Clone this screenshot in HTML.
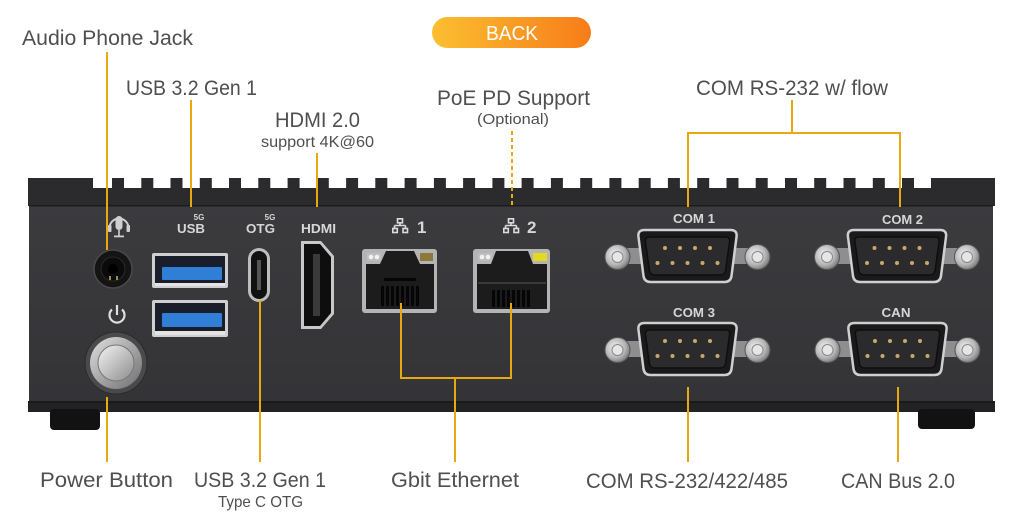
<!DOCTYPE html>
<html><head><meta charset="utf-8">
<style>
html,body{margin:0;padding:0;background:#fff;}
svg{display:block;}
</style></head>
<body>
<svg width="1024" height="528" viewBox="0 0 1024 528" xmlns="http://www.w3.org/2000/svg" font-family="'Liberation Sans', sans-serif">
<defs>
 <linearGradient id="pill" x1="0" x2="1" y1="0" y2="0"><stop offset="0" stop-color="#fbbf30"/><stop offset="1" stop-color="#f77c1a"/></linearGradient>
 <radialGradient id="nut" cx="0.4" cy="0.4" r="0.7"><stop offset="0" stop-color="#f4f4f4"/><stop offset="0.6" stop-color="#b4b4b4"/><stop offset="1" stop-color="#666"/></radialGradient>
 <linearGradient id="btn" x1="0" y1="0" x2="1" y2="1"><stop offset="0" stop-color="#f4f4f4"/><stop offset="1" stop-color="#8c8c8c"/></linearGradient>
 <linearGradient id="ring" x1="0" y1="0" x2="1" y2="1"><stop offset="0" stop-color="#e0e0e0"/><stop offset="1" stop-color="#6e6e6e"/></linearGradient>
 <linearGradient id="panel" x1="0" y1="0" x2="0" y2="1"><stop offset="0" stop-color="#3b3b3e"/><stop offset="1" stop-color="#343437"/></linearGradient>
 <g id="db9">
  <rect x="-62" y="-8" width="124" height="16" fill="#8e8e8e"/>
  <path d="M-43,-26 L43,-26 Q50,-26 49,-19 L44,20 Q43,26 37,26 L-37,26 Q-43,26 -44,20 L-49,-19 Q-50,-26 -43,-26 Z" fill="#1a1a1b" stroke="#cfcfcf" stroke-width="2.5"/>
  <path d="M-38,-19 L38,-19 Q43,-19 42,-14 L38,15 Q37,19 32,19 L-32,19 Q-37,19 -38,15 L-42,-14 Q-43,-19 -38,-19 Z" fill="#2b2b2d" stroke="#0e0e0e" stroke-width="1.5"/>
  <g fill="#c9a86a">
   <circle cx="-22.5" cy="-8" r="2"/><circle cx="-7.5" cy="-8" r="2"/><circle cx="7.5" cy="-8" r="2"/><circle cx="22.5" cy="-8" r="2"/>
   <circle cx="-30" cy="7" r="2"/><circle cx="-15" cy="7" r="2"/><circle cx="0" cy="7" r="2"/><circle cx="15" cy="7" r="2"/><circle cx="30" cy="7" r="2"/>
  </g>
  <circle cx="-70" cy="1" r="12.5" fill="url(#nut)" stroke="#555" stroke-width="1"/>
  <circle cx="-70" cy="1" r="5.5" fill="#e6e6e6" stroke="#888" stroke-width="1"/>
  <circle cx="70" cy="1" r="12.5" fill="url(#nut)" stroke="#555" stroke-width="1"/>
  <circle cx="70" cy="1" r="5.5" fill="#e6e6e6" stroke="#888" stroke-width="1"/>
 </g>
 <g id="lan" fill="none" stroke="#dcdcdc" stroke-width="1.6">
  <rect x="5.5" y="0.8" width="5" height="4"/>
  <path d="M8,4.8 V7.5 M2.5,7.5 H13.5 M2.5,7.5 V10.5 M13.5,7.5 V10.5"/>
  <rect x="0.8" y="10.5" width="4.5" height="4"/>
  <rect x="11" y="10.5" width="4.5" height="4"/>
 </g>
</defs>

<!-- BACK pill -->
<rect x="432" y="17" width="159" height="31" rx="15.5" fill="url(#pill)"/>
<text x="512" y="40" font-size="20" fill="#fff" text-anchor="middle" textLength="52" lengthAdjust="spacingAndGlyphs">BACK</text>

<!-- Device lid with fins -->
<rect x="28" y="188" width="967" height="18" fill="#2b2b2d"/>
<rect x="28" y="178" width="65" height="11" fill="#2b2b2d"/>
<rect x="931" y="178" width="64" height="11" fill="#2b2b2d"/>
<g fill="#2b2b2d">
<rect x="112" y="178" width="12" height="11"/><rect x="141.3" y="178" width="12" height="11"/><rect x="170.5" y="178" width="12" height="11"/><rect x="199.8" y="178" width="12" height="11"/>
<rect x="229" y="178" width="12" height="11"/><rect x="258.3" y="178" width="12" height="11"/><rect x="287.6" y="178" width="12" height="11"/><rect x="316.8" y="178" width="12" height="11"/>
<rect x="346.1" y="178" width="12" height="11"/><rect x="375.3" y="178" width="12" height="11"/><rect x="404.6" y="178" width="12" height="11"/><rect x="433.9" y="178" width="12" height="11"/>
<rect x="463.1" y="178" width="12" height="11"/><rect x="492.4" y="178" width="12" height="11"/><rect x="521.6" y="178" width="12" height="11"/><rect x="550.9" y="178" width="12" height="11"/>
<rect x="580.2" y="178" width="12" height="11"/><rect x="609.4" y="178" width="12" height="11"/><rect x="638.7" y="178" width="12" height="11"/><rect x="667.9" y="178" width="12" height="11"/>
<rect x="697.2" y="178" width="12" height="11"/><rect x="726.5" y="178" width="12" height="11"/><rect x="755.7" y="178" width="12" height="11"/><rect x="785" y="178" width="12" height="11"/>
<rect x="814.2" y="178" width="12" height="11"/><rect x="843.5" y="178" width="12" height="11"/><rect x="872.8" y="178" width="12" height="11"/><rect x="902" y="178" width="12" height="11"/>
</g>

<!-- front panel -->
<rect x="29" y="206" width="964" height="197" fill="url(#panel)"/>
<rect x="29" y="205" width="964" height="1.5" fill="#1c1c1d"/>
<rect x="28" y="401" width="967" height="2" fill="#1a1a1a"/>
<rect x="28" y="403" width="967" height="9" fill="#222224"/>
<!-- feet -->
<rect x="50" y="409" width="50" height="21" rx="4" fill="#121212"/>
<rect x="918" y="409" width="57" height="20" rx="4" fill="#121212"/>

<!-- headphone icon -->
<g fill="#cfcfcf" stroke="none">
 <path d="M109.5,228 A9.5,9.5 0 0 1 128.5,228" fill="none" stroke="#cfcfcf" stroke-width="2"/>
 <rect x="108" y="225" width="3.5" height="7" rx="1"/>
 <rect x="126.5" y="225" width="3.5" height="7" rx="1"/>
 <rect x="115.5" y="216" width="7" height="14" rx="3.5"/>
 <rect x="118.2" y="230" width="1.6" height="6"/>
 <rect x="114" y="235.5" width="10" height="1.8"/>
</g>
<!-- audio jack -->
<circle cx="113" cy="269" r="19" fill="#141414" stroke="#4a4a4a" stroke-width="1.5"/>
<circle cx="113" cy="269" r="12" fill="#0b0b0b" stroke="#2a2a2a" stroke-width="1"/>
<circle cx="113" cy="269" r="5" fill="#000"/>
<rect x="109" y="276" width="2" height="4" fill="#a08a50"/><rect x="116" y="276" width="2" height="4" fill="#a08a50"/>

<!-- power icon -->
<path d="M112,309.5 A7.5,7.5 0 1 0 122,309.5" fill="none" stroke="#dedede" stroke-width="2.2"/>
<line x1="117" y1="305" x2="117" y2="315" stroke="#dedede" stroke-width="2.2"/>
<!-- power button -->
<circle cx="116" cy="363" r="31" fill="#4a4a4c" stroke="#2a2a2a" stroke-width="1"/>
<circle cx="116" cy="363" r="26" fill="url(#ring)"/>
<circle cx="116" cy="363" r="18" fill="url(#btn)" stroke="#777" stroke-width="1"/>

<!-- panel labels -->
<g fill="#d6d6d6" font-weight="bold">
 <text x="199" y="220" font-size="8" text-anchor="middle">5G</text>
 <text x="191" y="233" font-size="13" text-anchor="middle" textLength="28" lengthAdjust="spacingAndGlyphs">USB</text>
 <text x="270" y="220" font-size="8" text-anchor="middle">5G</text>
 <text x="260.5" y="233" font-size="13" text-anchor="middle" textLength="29" lengthAdjust="spacingAndGlyphs">OTG</text>
 <text x="318.5" y="233" font-size="13" text-anchor="middle" textLength="35" lengthAdjust="spacingAndGlyphs">HDMI</text>
 <text x="417" y="233" font-size="17">1</text>
 <text x="527" y="233" font-size="17">2</text>
 <text x="694" y="223" font-size="13" text-anchor="middle" textLength="42" lengthAdjust="spacingAndGlyphs">COM 1</text>
 <text x="902.5" y="224" font-size="13" text-anchor="middle" textLength="41" lengthAdjust="spacingAndGlyphs">COM 2</text>
 <text x="694" y="317" font-size="13" text-anchor="middle" textLength="42" lengthAdjust="spacingAndGlyphs">COM 3</text>
 <text x="896" y="317" font-size="13" text-anchor="middle" textLength="29" lengthAdjust="spacingAndGlyphs">CAN</text>
</g>
<use href="#lan" x="392" y="218"/>
<use href="#lan" x="503" y="218"/>

<!-- USB-A ports -->
<g>
 <rect x="152" y="253" width="76" height="35" rx="2" fill="#cfcfcf"/>
 <rect x="155" y="256" width="70" height="27" fill="#1a1e2a"/>
 <rect x="162" y="267" width="60" height="13" rx="1" fill="#2f7fd6"/>
 <rect x="155" y="283" width="70" height="3" fill="#e4e4e4"/>
 <rect x="152" y="300" width="76" height="37" rx="2" fill="#cfcfcf"/>
 <rect x="155" y="303" width="70" height="28" fill="#1a1e2a"/>
 <rect x="162" y="313" width="60" height="14" rx="1" fill="#2f7fd6"/>
 <rect x="155" y="331" width="70" height="4" fill="#e4e4e4"/>
</g>
<!-- USB-C -->
<rect x="248" y="248" width="22" height="54" rx="11" fill="#bdbdbd"/>
<rect x="251" y="251" width="16" height="48" rx="8" fill="#111"/>
<rect x="257" y="260" width="4" height="30" fill="#555"/>
<!-- HDMI -->
<polygon points="301,241 321,241 334,256 334,314 321,329 301,329" fill="#c8c8c8"/>
<polygon points="304,244 320,244 331,257 331,313 320,326 304,326" fill="#0e0e0e"/>
<rect x="313" y="254" width="7" height="62" fill="#3a3a3a"/>

<!-- RJ45 port 1 -->
<rect x="362" y="249" width="75" height="64" rx="3" fill="#b4b4b4"/>
<polygon points="366,264 380,264 386,251 414,251 420,264 434,264 434,309 366,309" fill="#1c1c1c"/>
<rect x="367" y="253" width="14" height="8" fill="#bdbdbd"/>
<circle cx="371" cy="257" r="2.3" fill="#f2f2f2"/><circle cx="377" cy="257" r="2.3" fill="#f2f2f2"/>
<rect x="420" y="253" width="13" height="8" fill="#8c7a3a"/>
<rect x="384" y="278" width="32" height="3" fill="#050505"/>
<g fill="#060606"><rect x="381" y="286" width="3" height="20"/><rect x="386" y="286" width="3" height="20"/><rect x="391" y="286" width="3" height="20"/><rect x="396" y="286" width="3" height="20"/><rect x="401" y="286" width="3" height="20"/><rect x="406" y="286" width="3" height="20"/><rect x="411" y="286" width="3" height="20"/><rect x="416" y="286" width="3" height="20"/></g>
<!-- RJ45 port 2 -->
<rect x="473" y="249" width="77" height="64" rx="3" fill="#b4b4b4"/>
<polygon points="477,264 491,264 496,251 528,251 533,264 547,264 547,309 477,309" fill="#1c1c1c"/>
<rect x="478" y="253" width="14" height="8" fill="#bdbdbd"/>
<circle cx="482" cy="257" r="2.3" fill="#f2f2f2"/><circle cx="488" cy="257" r="2.3" fill="#f2f2f2"/>
<rect x="533" y="253" width="14" height="8" fill="#e2da1e"/>
<rect x="478" y="282" width="68" height="2" fill="#3a3a3a"/>
<g fill="#060606"><rect x="492" y="290" width="3" height="17"/><rect x="497" y="290" width="3" height="17"/><rect x="502" y="290" width="3" height="17"/><rect x="507" y="290" width="3" height="17"/><rect x="512" y="290" width="3" height="17"/><rect x="517" y="290" width="3" height="17"/><rect x="522" y="290" width="3" height="17"/><rect x="527" y="290" width="3" height="17"/></g>

<!-- DB9 connectors -->
<use href="#db9" transform="translate(687.5,256)"/>
<use href="#db9" transform="translate(897,256)"/>
<use href="#db9" transform="translate(687.5,349)"/>
<use href="#db9" transform="translate(897.5,349)"/>

<!-- leader lines -->
<g stroke="#e9a80f" stroke-width="2" fill="none">
 <path d="M107,52 V250"/>
 <path d="M191,100 V207"/>
 <path d="M317,153 V207"/>
 <path d="M792,100 V133 M688,207 V133 H900 V207"/>
 <path d="M107,397 V462"/>
 <path d="M260,300 V462"/>
 <path d="M401,303 V378 H511 V303 M455,378 V462"/>
 <path d="M688,387 V462"/>
 <path d="M898,387 V462"/>
 <path d="M512,131 V207" stroke-dasharray="4,3"/>
</g>

<!-- labels -->
<g fill="#4f4f4f" font-size="21">
 <text x="22" y="45" textLength="171" lengthAdjust="spacingAndGlyphs">Audio Phone Jack</text>
 <text x="126" y="95" textLength="131" lengthAdjust="spacingAndGlyphs">USB 3.2 Gen 1</text>
 <text x="275" y="127" textLength="85" lengthAdjust="spacingAndGlyphs">HDMI 2.0</text>
 <text x="261" y="147" font-size="16" textLength="113" lengthAdjust="spacingAndGlyphs">support 4K@60</text>
 <text x="437" y="105" textLength="153" lengthAdjust="spacingAndGlyphs">PoE PD Support</text>
 <text x="477" y="124" font-size="15" textLength="72" lengthAdjust="spacingAndGlyphs">(Optional)</text>
 <text x="696" y="95" textLength="192" lengthAdjust="spacingAndGlyphs">COM RS-232 w/ flow</text>
 <text x="40" y="487" textLength="133" lengthAdjust="spacingAndGlyphs">Power Button</text>
 <text x="194" y="487" textLength="132" lengthAdjust="spacingAndGlyphs">USB 3.2 Gen 1</text>
 <text x="218" y="507" font-size="16" textLength="85" lengthAdjust="spacingAndGlyphs">Type C OTG</text>
 <text x="391" y="487" textLength="128" lengthAdjust="spacingAndGlyphs">Gbit Ethernet</text>
 <text x="586" y="488" textLength="202" lengthAdjust="spacingAndGlyphs">COM RS-232/422/485</text>
 <text x="841" y="488" textLength="114" lengthAdjust="spacingAndGlyphs">CAN Bus 2.0</text>
</g>
</svg>
</body></html>
